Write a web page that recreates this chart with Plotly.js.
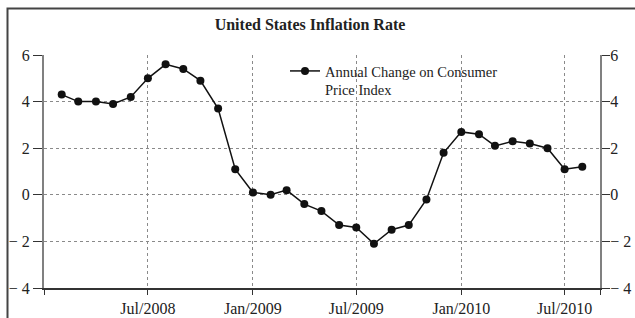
<!DOCTYPE html>
<html>
<head>
<meta charset="utf-8">
<script src="https://cdn.plot.ly/plotly-3.0.1.min.js"></script>
<style>
html,body{margin:0;padding:0;background:#fff;}
#chart{width:635px;height:318px;}
</style>
</head>
<body>
<div id="chart"></div>
<script>
// Monthly points as placed on the chart (date axis)
const months = [
  "2008-02-01","2008-03-01","2008-04-01","2008-05-01","2008-06-01","2008-07-01",
  "2008-08-01","2008-09-01","2008-10-01","2008-11-01","2008-12-01","2009-01-01",
  "2009-02-01","2009-03-01","2009-04-01","2009-05-01","2009-06-01","2009-07-01",
  "2009-08-01","2009-09-01","2009-10-01","2009-11-01","2009-12-01","2010-01-01",
  "2010-02-01","2010-03-01","2010-04-01","2010-05-01","2010-06-01","2010-07-01",
  "2010-08-01"
];
const cpiChange = [
  4.3, 4.0, 4.0, 3.9, 4.2, 5.0,
  5.6, 5.4, 4.9, 3.7, 1.1, 0.1,
  0.0, 0.2, -0.4, -0.7, -1.3, -1.4,
  -2.1, -1.5, -1.3, -0.2, 1.8, 2.7,
  2.6, 2.1, 2.3, 2.2, 2.0, 1.1,
  1.2
];
const seriesName = "Annual Change on Consumer<br>Price Index";
const chartTitle = "<b>United States Inflation Rate</b>";
const xTickVals = ["2008-01-01","2008-07-01","2009-01-01","2009-07-01","2010-01-01","2010-07-01","2010-09-01"];
const xTickText = ["","Jul/2008","Jan/2009","Jul/2009","Jan/2010","Jul/2010",""];
const yTickVals = [-4, -2, 0, 2, 4, 6];
const yTickText = ["\u2212 4", "\u2212 2", "0", "2", "4", "6"];
const xRange = ["2008-01-01", "2010-09-01"];
const yRange = [-4, 6];

const serif = "Liberation Serif, Times New Roman, serif";
const M = {l: 44, r: 35, t: 55, b: 30};
const W = 635, H = 318;
const pw = W - M.l - M.r, ph = H - M.t - M.b;
const px = v => (v - M.l) / pw;
const py = v => (H - M.b - v) / ph;

const traces = [{
  type: "scatter",
  mode: "lines+markers",
  x: months,
  y: cpiChange,
  name: seriesName,
  line: {color: "#111", width: 1.5},
  marker: {color: "#111", size: 8, symbol: "circle"},
  showlegend: true
}, {
  // same series bound to the right-hand axis (invisible) so that axis is drawn
  type: "scatter",
  mode: "lines",
  x: months,
  y: cpiChange,
  yaxis: "y2",
  opacity: 0,
  line: {width: 0},
  showlegend: false,
  hoverinfo: "skip"
}];

const tickFont = {family: serif, size: 16, color: "#222"};

const layout = {
  width: W, height: H,
  margin: M,
  paper_bgcolor: "#fff",
  plot_bgcolor: "#fff",
  font: {family: serif, size: 15, color: "#222"},
  title: {
    text: chartTitle,
    x: 310 / W, xanchor: "center", xref: "container",
    y: 1 - 24 / H, yanchor: "middle", yref: "container",
    font: {family: serif, size: 16, color: "#222"}
  },
  xaxis: {
    type: "date",
    range: xRange,
    tickmode: "array",
    tickvals: xTickVals,
    ticktext: xTickText,
    ticks: "outside", ticklen: 5, tickcolor: "#333", tickwidth: 1,
    showline: true, linecolor: "#333", linewidth: 1.5, mirror: false,
    showgrid: true, gridcolor: "#8a8a8a", griddash: "dot", gridwidth: 1,
    zeroline: false,
    tickfont: tickFont,
    fixedrange: true
  },
  yaxis: {
    range: yRange,
    tickmode: "array",
    tickvals: yTickVals,
    ticktext: yTickText,
    ticks: "outside", ticklen: 9, tickcolor: "#333", tickwidth: 1,
    showline: true, linecolor: "#808080", linewidth: 2,
    showgrid: true, gridcolor: "#8a8a8a", griddash: "dot", gridwidth: 1,
    zeroline: false,
    tickfont: tickFont,
    fixedrange: true
  },
  yaxis2: {
    overlaying: "y", side: "right",
    range: yRange,
    tickmode: "array",
    tickvals: yTickVals,
    ticktext: yTickText,
    ticks: "outside", ticklen: 8, tickcolor: "#333", tickwidth: 1,
    ticklabelstandoff: -3,
    showline: true, linecolor: "#808080", linewidth: 2,
    showgrid: false, zeroline: false,
    tickfont: tickFont,
    fixedrange: true
  },
  legend: {
    x: px(285), xanchor: "left",
    y: 1, yanchor: "top",
    bgcolor: "rgba(0,0,0,0)",
    borderwidth: 0,
    valign: "top",
    font: {family: serif, size: 14.5, color: "#222"}
  },
  shapes: [{
    type: "rect", xref: "paper", yref: "paper",
    x0: px(7.5), x1: px(645), y0: py(340), y1: py(8.5),
    line: {color: "#444", width: 2},
    fillcolor: "rgba(0,0,0,0)",
    layer: "above"
  }]
};

Plotly.newPlot("chart", traces, layout, {staticPlot: true, displayModeBar: false});
</script>
</body>
</html>
